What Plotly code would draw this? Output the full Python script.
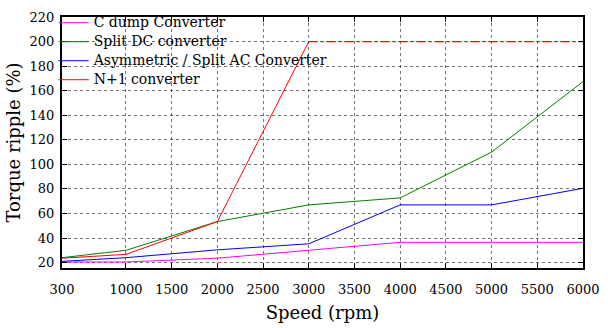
import plotly.graph_objects as go

speed = [300, 1000, 2000, 3000, 4000, 5000, 6000]
c_dump = [20.5, 20.5, 23.6, 29.8, 36.5, 36.5, 36.5]
split_dc = [24, 30, 53.4, 67, 72.7, 110, 167.4]
asym_split_ac = [21, 24, 30.4, 35.3, 67, 67, 80.5]
n_plus_1 = [23.6, 26.7, 53.4, 200, 200, 200, 200]
x_ticks = [300, 1000, 1500, 2000, 2500, 3000, 3500, 4000, 4500, 5000, 5500, 6000]
y_ticks = [20, 40, 60, 80, 100, 120, 140, 160, 180, 200, 220]
names = ["C dump Converter", "Split DC converter", "Asymmetric / Split AC Converter", "N+1 converter"]

FONT = "DejaVu Serif"

def lg(s):
    return '<span style="font-size:14px">' + s + '</span>'

fig = go.Figure()
fig.add_trace(go.Scatter(x=speed, y=c_dump, mode="lines", name=lg(names[0]),
                         line=dict(color="#ff00ff", width=1)))
fig.add_trace(go.Scatter(x=speed, y=split_dc, mode="lines", name=lg(names[1]),
                         line=dict(color="#008000", width=1)))
fig.add_trace(go.Scatter(x=speed, y=asym_split_ac, mode="lines", name=lg(names[2]),
                         line=dict(color="#0000ff", width=1)))
fig.add_trace(go.Scatter(x=speed[:4], y=n_plus_1[:4], mode="lines", name=lg(names[3]),
                         line=dict(color="#ff0000", width=1)))
fig.add_trace(go.Scatter(x=speed[3:], y=n_plus_1[3:], mode="lines", showlegend=False,
                         line=dict(color="#ff0000", width=1.2, dash="dashdot")))

axis_common = dict(showline=True, linecolor="black", linewidth=2, mirror="ticks",
                   ticks="inside", ticklen=5, tickcolor="black",
                   showgrid=True, gridcolor="rgba(0,0,0,0.55)", griddash="dot", gridwidth=1,
                   zeroline=False, tickfont=dict(family=FONT, size=13, color="black"))

fig.update_layout(
    width=608, height=328,
    margin=dict(l=62, r=21, t=8, b=55),
    paper_bgcolor="white", plot_bgcolor="white",
    font=dict(family=FONT, color="black"),
    xaxis=dict(range=[300, 6000], tickvals=x_ticks, ticktext=[str(v) for v in x_ticks],
               ticklabelstandoff=8,
               title=dict(text="Speed (rpm)", font=dict(family=FONT, size=18), standoff=11),
               **axis_common),
    yaxis=dict(range=[15.6, 220], tickvals=y_ticks,
               ticklabelstandoff=3,
               title=dict(text="Torque ripple (%)", font=dict(family=FONT, size=18), standoff=4),
               **axis_common),
    legend=dict(x=-0.016, y=1.035, xanchor="left", yanchor="top", bgcolor="rgba(0,0,0,0)",
                font=dict(family=FONT, size=12, color="black"), tracegroupgap=0,
                itemwidth=30),
    showlegend=True,
)

fig.write_html("out.html", config={"displayModeBar": False},
               post_script="document.body.style.margin='0';")
